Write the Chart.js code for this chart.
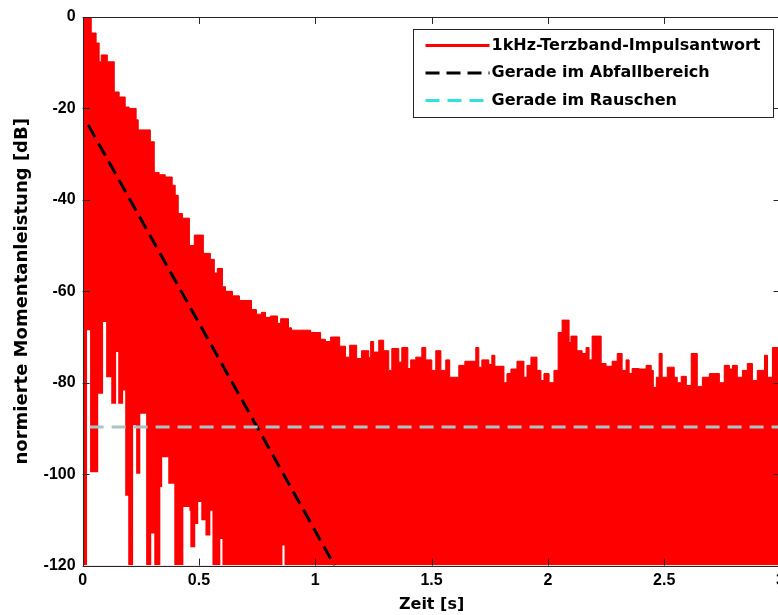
<!DOCTYPE html>
<html>
<head>
<meta charset="utf-8">
<script src="https://cdn.jsdelivr.net/npm/chart.js@4.4.1/dist/chart.umd.min.js"></script>
<style>
  html, body { margin: 0; padding: 0; background: #fff; overflow: hidden; }
  #wrap { position: absolute; left: 0; top: 0; width: 790px; height: 615px; }
</style>
</head>
<body>
<div id="wrap"><canvas id="myChartImpuls"></canvas></div>
<script>
// obere Huelle der Impulsantwort: Zeit [s] / Pegel [dB]
const pulsTime = [
    0, 0.037, 0.058, 0.071, 0.080, 0.106, 0.136, 0.157, 0.183, 0.200,
    0.230, 0.239, 0.291, 0.308, 0.329, 0.355, 0.385, 0.398, 0.411, 0.429,
    0.459, 0.480, 0.519, 0.549, 0.566, 0.579, 0.601, 0.614, 0.644, 0.674,
    0.726, 0.747, 0.769, 0.786, 0.807, 0.838, 0.851, 0.885, 0.898, 0.980,
    1.023, 1.044, 1.066, 1.105, 1.130, 1.148, 1.178, 1.199, 1.230, 1.238,
    1.251, 1.273, 1.294, 1.316, 1.329, 1.359, 1.372, 1.398, 1.410, 1.432,
    1.458, 1.475, 1.501, 1.518, 1.540, 1.561, 1.578, 1.617, 1.643, 1.690,
    1.703, 1.716, 1.746, 1.759, 1.772, 1.811, 1.824, 1.841, 1.867, 1.897,
    1.910, 1.927, 1.953, 1.970, 1.983, 2.005, 2.026, 2.044, 2.061, 2.091,
    2.099, 2.125, 2.147, 2.164, 2.177, 2.190, 2.229, 2.250, 2.276, 2.298,
    2.319, 2.336, 2.349, 2.362, 2.392, 2.422, 2.444, 2.453, 2.466, 2.478,
    2.491, 2.513, 2.543, 2.556, 2.573, 2.595, 2.616, 2.642, 2.664, 2.694,
    2.715, 2.737, 2.758, 2.780, 2.793, 2.814, 2.836, 2.857, 2.879, 2.900,
    2.931, 2.944, 2.965, 3.0
]
const pulsDb = [
    0, -3.5, -5.7, -9.8, -8.3, -9.8, -16.4, -17.5, -19.7, -20,
    -22.5, -24.7, -27.3, -34, -34.5, -35, -36.8, -39, -43, -44,
    -50, -47.7, -51.7, -53, -56, -55, -59, -60, -61, -62,
    -64, -65, -64.6, -65.7, -65.4, -67, -66, -68, -68.5, -69,
    -70.5, -71, -70, -72, -74.4, -71.8, -74.7, -73, -74.5, -71,
    -73.3, -70.7, -73, -77.3, -72.5, -75.5, -72.3, -76.9, -75, -74.4,
    -72.3, -75, -77.3, -73, -77.3, -75, -78.8, -76.2, -75.3, -72.3,
    -76.6, -75, -76, -74, -76.4, -80, -78, -77, -75.3, -78.8,
    -76.2, -74.4, -77.3, -79.5, -78, -80, -77.3, -69, -66.3, -71.2,
    -69.8, -73, -73.6, -72.3, -75, -69.8, -75.8, -76.4, -75.3, -73.6,
    -77.3, -75, -78, -76.9, -77, -76.2, -77.3, -81, -78.8, -73.6,
    -78.8, -76.6, -78.8, -80, -78.6, -80.6, -73.6, -80.8, -78.8, -78,
    -78, -80, -76.2, -77, -76.2, -78.8, -77.3, -75.8, -79.5, -77.3,
    -74, -78.8, -72.3, -72.3
]
// untere Huelle (weisse Luecken am Anfang), -120 = bis zum Rand rot
const gapTime = [
    0, 0.019, 0.032, 0.067, 0.088, 0.101, 0.123, 0.144, 0.153, 0.174,
    0.183, 0.196, 0.217, 0.230, 0.248, 0.273, 0.295, 0.308, 0.334, 0.342,
    0.368, 0.394, 0.433, 0.459, 0.463, 0.484, 0.497, 0.510, 0.528, 0.549,
    0.558, 0.592, 0.601, 0.859, 0.868, 3.0
]
const gapDb = [
    -120, -68.5, -99.6, -82.4, -66.7, -78.8, -84.6, -73.3, -84.6, -81.7,
    -104.7, -120, -89.3, -99.9, -86.8, -120, -113, -120, -102.8, -96.3,
    -102.1, -120, -107.2, -108, -116, -110.9, -106.1, -110.1, -113.4, -108,
    -120, -114.2, -120, -115.6, -120, -120
]
// Gerade im Abfallbereich
const slopeTime = [0.024, 1.083]
const slopeDb = [-23.6, -120]
// Gerade im Rauschen
const noiseTime = [0.03, 3]
const noiseDb = [-89.7, -89.7]

const xTicks = [0, 0.5, 1, 1.5, 2, 2.5, 3]
const yTicks = [0, -20, -40, -60, -80, -100, -120]

function toPoints(xs, ys) {
    return xs.map((x, i) => ({ x: x, y: ys[i] }))
}

// Rahmen, Ticks nach innen und Legende wie in Matlab
const matlabFrame = {
    id: 'matlabFrame',
    afterDatasetsDraw(chart) {
        const ctx = chart.ctx
        const a = chart.chartArea
        const sx = chart.scales.x
        const sy = chart.scales.y
        ctx.save()
        ctx.strokeStyle = '#262626'
        ctx.lineWidth = 1
        ctx.setLineDash([])
        ctx.strokeRect(Math.round(a.left) + 0.5, Math.round(a.top) + 0.5,
            Math.round(a.right - a.left), Math.round(a.bottom - a.top))
        ctx.beginPath()
        xTicks.forEach(v => {
            const px = Math.round(sx.getPixelForValue(v)) + 0.5
            ctx.moveTo(px, a.bottom); ctx.lineTo(px, a.bottom - 7)
            ctx.moveTo(px, a.top); ctx.lineTo(px, a.top + 7)
        })
        yTicks.forEach(v => {
            const py = Math.round(sy.getPixelForValue(v)) + 0.5
            ctx.moveTo(a.left, py); ctx.lineTo(a.left + 7, py)
            ctx.moveTo(a.right, py); ctx.lineTo(a.right - 7, py)
        })
        ctx.stroke()

        // legend box
        const bx = Math.round(a.right - 368) + 0.5
        const by = Math.round(a.top + 12) + 0.5
        ctx.fillStyle = '#ffffff'
        ctx.fillRect(bx, by, 360, 88)
        ctx.strokeRect(bx, by, 360, 88)
        const items = chart.data.datasets.filter(d => d.label)
        ctx.font = 'bold 16px "DejaVu Sans"'
        ctx.textBaseline = 'middle'
        items.forEach((d, i) => {
            const y = by + 16 + i * 27.5
            ctx.strokeStyle = d.legendColor || d.borderColor
            ctx.lineWidth = 3
            ctx.setLineDash(d.borderDash || [])
            ctx.beginPath()
            ctx.moveTo(bx + 12, y)
            ctx.lineTo(bx + 76, y)
            ctx.stroke()
            ctx.fillStyle = '#000000'
            ctx.fillText(d.label, bx + 78, y)
        })
        ctx.restore()
    }
}

const myChartImpuls = new Chart(
    document.getElementById('myChartImpuls'),
    {
        type: 'line',
        data: {
            datasets: [
                {
                    label: '1kHz-Terzband-Impulsantwort',
                    data: toPoints(pulsTime, pulsDb),
                    borderColor: '#ee0000',
                    legendColor: '#ff0000',
                    backgroundColor: '#ff0000',
                    borderWidth: 1,
                    stepped: 'before',
                    fill: 'start',
                    pointRadius: 0,
                    order: 4
                },
                {
                    data: toPoints(gapTime, gapDb),
                    borderWidth: 0,
                    borderColor: 'rgba(255,255,255,0)',
                    backgroundColor: '#ffffff',
                    stepped: 'before',
                    fill: 'start',
                    pointRadius: 0,
                    order: 3
                },
                {
                    label: 'Gerade im Abfallbereich',
                    data: toPoints(slopeTime, slopeDb),
                    borderColor: '#000000',
                    borderWidth: 3,
                    borderDash: [14, 7],
                    fill: false,
                    pointRadius: 0,
                    order: 2
                },
                {
                    label: 'Gerade im Rauschen',
                    data: toPoints(noiseTime, noiseDb),
                    borderColor: '#a8c4c4',
                    legendColor: '#33e0e0',
                    borderWidth: 3,
                    borderDash: [14, 8],
                    fill: false,
                    pointRadius: 0,
                    order: 1
                }
            ]
        },
        options: {
            animation: false,
            responsive: true,
            maintainAspectRatio: false,
            layout: {
                padding: { left: 8, top: 17, right: 5, bottom: 1 }
            },
            plugins: {
                legend: { display: false },
                tooltip: { enabled: false }
            },
            scales: {
                x: {
                    type: 'linear',
                    min: 0,
                    max: 3,
                    afterBuildTicks: axis => { axis.ticks = xTicks.map(v => ({ value: v })) },
                    grid: { display: false, drawTicks: false },
                    border: { display: false },
                    ticks: {
                        color: '#000000',
                        padding: 5,
                        maxRotation: 0,
                        autoSkip: false,
                        callback: v => String(v),
                        font: { family: 'Liberation Sans', size: 16, weight: 'bold' }
                    },
                    title: {
                        display: true,
                        text: 'Zeit [s]',
                        color: '#000000',
                        padding: { top: 0, bottom: 0 },
                        font: { family: 'DejaVu Sans', size: 16, weight: 'bold' }
                    }
                },
                y: {
                    min: -120,
                    max: 0,
                    afterBuildTicks: axis => { axis.ticks = yTicks.map(v => ({ value: v })) },
                    grid: { display: false, drawTicks: false },
                    border: { display: false },
                    ticks: {
                        color: '#000000',
                        padding: 7,
                        callback: v => String(v),
                        font: { family: 'Liberation Sans', size: 16, weight: 'bold' }
                    },
                    title: {
                        display: true,
                        text: 'normierte Momentanleistung [dB]',
                        color: '#000000',
                        padding: { top: 4, bottom: 3 },
                        font: { family: 'DejaVu Sans', size: 18, weight: 'bold' }
                    }
                }
            }
        },
        plugins: [matlabFrame]
    }
);
</script>
</body>
</html>
